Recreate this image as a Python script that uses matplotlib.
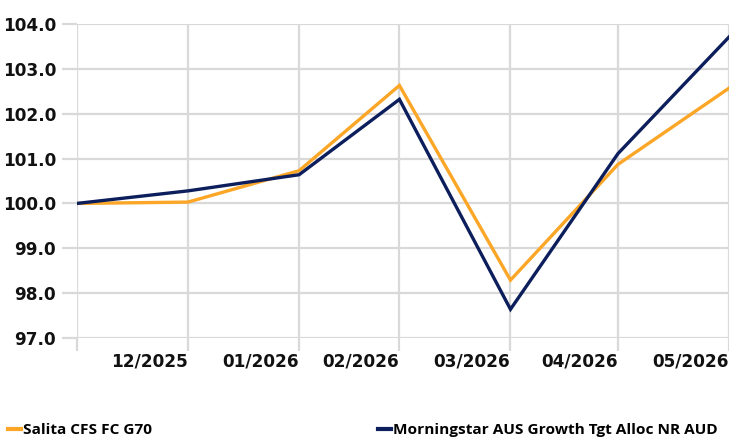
import matplotlib
matplotlib.use('Agg')
import matplotlib.pyplot as plt
import matplotlib.transforms as mtransforms
from matplotlib.lines import Line2D
import numpy as np

# month-start dates of the series
dates = np.array(['2025-12-01', '2026-01-01', '2026-02-01', '2026-03-01',
                  '2026-04-01', '2026-05-01', '2026-06-01'], dtype='datetime64[D]')
salita = [100.0, 100.03, 100.73, 102.63, 98.29, 100.87, 102.57]
morningstar = [100.0, 100.28, 100.64, 102.32, 97.64, 101.11, 103.71]
# each label sits just left of the month boundary it ends at
tick_labels = ['12/2025', '01/2026', '02/2026', '03/2026', '04/2026', '05/2026']
series_names = ['Salita CFS FC G70', 'Morningstar AUS Growth Tgt Alloc NR AUD']

ORANGE = '#FBA626'
NAVY = '#0C1E5B'
GRID = '#D9D9D9'

plt.rcParams['font.family'] = ['DejaVu Sans']

fig = plt.figure(figsize=(7.29, 4.38), dpi=100)
ax = fig.add_axes([77/729, 1-338/438, 1-77/729, (338-24)/438])

ax.plot(dates, salita, color=ORANGE, lw=2.4, solid_joinstyle='miter', zorder=3)
ax.plot(dates, morningstar, color=NAVY, lw=2.4, solid_joinstyle='miter', zorder=4)

ax.set_xlim(dates[0], dates[-1])
ax.set_ylim(97, 104)
yt = np.arange(97, 104.5, 1.0)
ax.set_yticks(yt)
ax.set_yticklabels([f'{v:.1f}' for v in yt])
ax.set_xticks(list(dates))
ax.set_xticklabels([''] + tick_labels)
shift = mtransforms.ScaledTranslation(-5/100, 0, fig.dpi_scale_trans)
for lab in ax.get_xticklabels():
    lab.set_ha('right')
    lab.set_transform(lab.get_transform() + shift)

ax.grid(True, color=GRID, lw=1.6, zorder=0)
for s in ax.spines.values():
    s.set_visible(False)
ax.tick_params(axis='y', length=11, width=1.6, color=GRID, labelsize=12.2, pad=4)
ax.tick_params(axis='x', length=9.5, width=1.6, color=GRID, labelsize=12.2, pad=1)
for lab in ax.get_xticklabels() + ax.get_yticklabels():
    lab.set_fontweight('bold')
    lab.set_color('#111111')

h1 = Line2D([], [], color=ORANGE, lw=3)
h2 = Line2D([], [], color=NAVY, lw=3)
kw = dict(frameon=False, handlelength=0.8, handletextpad=0.15, borderaxespad=0,
          prop={'family': 'Open Sans', 'size': 11.1, 'weight': 'bold'})
fig.legend([h1], [series_names[0]], loc='lower left', bbox_to_anchor=(2/729, -0.012), **kw)
fig.legend([h2], [series_names[1]], loc='lower left', bbox_to_anchor=(372/729, -0.012), **kw)

fig.savefig('out.png', dpi=100)
